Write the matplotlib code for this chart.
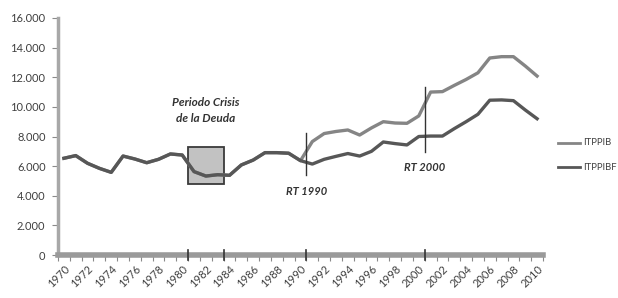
import matplotlib
matplotlib.use("Agg")
import matplotlib.pyplot as plt
from matplotlib.patches import Rectangle
from matplotlib.ticker import FuncFormatter, MultipleLocator

years = list(range(1970, 2011))
itppib = [6530, 6710, 6190, 5850, 5580, 6680, 6480, 6230, 6460, 6820,
          6750, 5630, 5330, 5420, 5380, 6080, 6410, 6910, 6910, 6870,
          6370, 7660, 8200, 8340, 8440, 8100, 8580, 9000, 8910, 8890,
          9390, 11000, 11030, 11450, 11850, 12300, 13300, 13390, 13390, 12760,
          12080]
itppibf = [6530, 6710, 6190, 5850, 5580, 6680, 6480, 6230, 6460, 6820,
           6750, 5630, 5330, 5420, 5380, 6080, 6410, 6910, 6910, 6870,
           6370, 6140, 6460, 6660, 6850, 6680, 7000, 7630, 7520, 7430,
           8000, 8030, 8030, 8530, 9000, 9500, 10450, 10470, 10420, 9790,
           9200]
series_names = ["ITPPIB", "ITPPIBF"]
crisis_label = "Periodo Crisis\nde la Deuda"
crisis_years = (1981, 1983)
crisis_range = (4790, 7290)
rt_labels = ["RT 1990", "RT 2000"]
rt_years = [1990.5, 2000.5]
rt_spans = [(5400, 8240), (6980, 11320)]
rt_label_y = [4300, 5900]
year_labels = [str(y) if (y - 1970) % 2 == 0 else "" for y in years]

W, H = 618, 298
fig = plt.figure(figsize=(W / 100, H / 100), dpi=100)
fig.patch.set_facecolor("white")
ax = fig.add_axes([58 / W, 1 - 255 / H, (543 - 58) / W, (255 - 18) / H])
ax.set_facecolor("white")

idx = [y - 1970 for y in years]
col_up = "#858585"
col_lo = "#575757"
ax.plot(idx, itppib, color=col_up, lw=2.4, zorder=3, solid_joinstyle="round")
ax.plot(idx, itppibf, color=col_lo, lw=2.4, zorder=4, solid_joinstyle="round")

# crisis box
x0 = crisis_years[0] - 1970 - 0.5
x1 = crisis_years[1] - 1970 + 0.5
ax.add_patch(Rectangle((x0, crisis_range[0]), x1 - x0, crisis_range[1] - crisis_range[0],
                       facecolor="#c2c2c2", edgecolor="#3a3a3a", lw=1.3, zorder=2))
ax.text((x0 + x1) / 2, 8850, crisis_label, ha="center", va="bottom", fontsize=8.5,
        fontweight="bold", fontstyle="italic", family="Lato", color="#333333",
        linespacing=1.5)

for lab, xr, span, ly in zip(rt_labels, rt_years, rt_spans, rt_label_y):
    xi = xr - 1970
    ax.plot([xi, xi], span, color="#333333", lw=1.0, zorder=5)
    ax.text(xi, ly, lab, ha="center", va="center", fontsize=8, fontweight="bold",
            fontstyle="italic", family="Lato", color="#333333")

# dark tick marks crossing bottom axis
for xm in [x0, x1, rt_years[0] - 1970, rt_years[1] - 1970]:
    ax.plot([xm, xm], [-330, 330], color="#333333", lw=1.2, zorder=6, clip_on=False)

ax.set_xlim(-0.5, 40.5)
ax.set_ylim(0, 16000)

ax.yaxis.set_major_locator(MultipleLocator(2000))
ax.yaxis.set_major_formatter(FuncFormatter(lambda v, p: f"{int(v):,}".replace(",", ".")))
ax.set_xticks([i - 0.5 for i in range(42)], minor=True)
ax.set_xticks(idx)
ax.set_xticklabels(year_labels, rotation=45, ha="right", rotation_mode="anchor")
ax.tick_params(axis="x", which="major", length=0, pad=6, labelsize=8, labelcolor="#404040")
ax.tick_params(axis="x", which="minor", length=4, width=0.8, color="#8a8a8a", direction="out")
ax.tick_params(axis="y", length=4, width=0.8, color="#8a8a8a", labelsize=8,
               labelcolor="#404040", pad=5)
for lab in ax.get_xticklabels() + ax.get_yticklabels():
    lab.set_family("Lato")

for s in ["top", "right"]:
    ax.spines[s].set_visible(False)
ax.spines["left"].set_color("#a8a8a8")
ax.spines["left"].set_linewidth(2.5)
ax.spines["bottom"].set_color("#9a9a9a")
ax.spines["bottom"].set_linewidth(4)

# legend
leg_y = [143, 167]
for name, col, yy in zip(series_names, [col_up, col_lo], leg_y):
    fig.add_artist(plt.Line2D([558 / W, 580 / W], [1 - yy / H, 1 - yy / H],
                              color=col, lw=2.0, transform=fig.transFigure))
    fig.text(583 / W, 1 - yy / H, name, ha="left", va="center", fontsize=6.8,
             family="Lato", color="#404040")

fig.savefig("out.png", dpi=100, facecolor="white")
